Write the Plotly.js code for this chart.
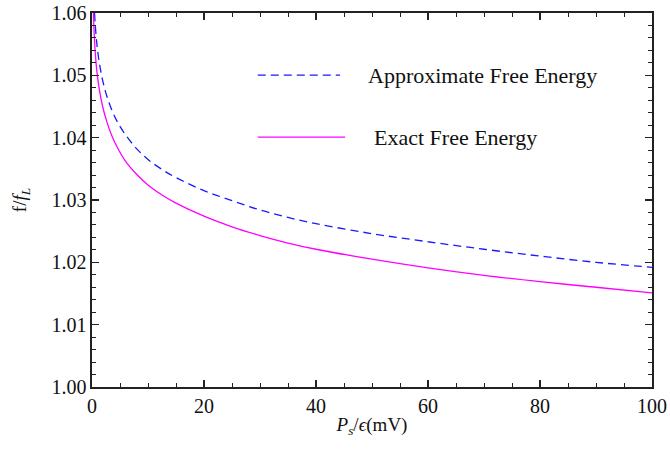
<!DOCTYPE html>
<html>
<head>
<meta charset="utf-8">
<script src="https://cdn.plot.ly/plotly-3.0.1.min.js"></script>
<style>html,body{margin:0;padding:0;background:#fff}#chart{width:670px;height:450px}</style>
</head>
<body>
<div id="chart"></div>
<script>
// Approximate free energy (blue dashed)
const approxX = [0.45, 0.7, 1.0, 1.4, 1.9, 2.6, 3.6, 4.8, 6.2, 8, 10, 12.5, 15, 20, 25, 30, 35, 40, 50, 60, 70, 80, 90, 100];
const approxY = [1.0600, 1.0567, 1.0540, 1.0515, 1.0492, 1.0468, 1.0443, 1.0421, 1.0402, 1.0382, 1.0365, 1.0349, 1.0336, 1.0315, 1.0299, 1.0284, 1.0272, 1.0262, 1.0246, 1.0233, 1.0221, 1.0210, 1.0200, 1.0192];
// Exact free energy (magenta solid)
const exactX = [0.25, 0.4, 0.6, 0.9, 1.3, 1.9, 2.6, 3.5, 4.6, 6, 8, 10, 12.5, 15, 20, 25, 30, 35, 40, 50, 60, 70, 80, 90, 100];
const exactY = [1.0600, 1.0565, 1.0534, 1.0504, 1.0478, 1.0450, 1.0427, 1.0404, 1.0383, 1.0362, 1.0341, 1.0324, 1.0308, 1.0295, 1.0274, 1.0257, 1.0243, 1.0231, 1.0221, 1.0205, 1.0191, 1.0179, 1.0169, 1.0160, 1.0151];
const legendNames = ["Approximate Free Energy", "Exact Free Energy"];
const xTicks = [0, 20, 40, 60, 80, 100];
const yTicks = [1.00, 1.01, 1.02, 1.03, 1.04, 1.05, 1.06];
const yTickText = ["1.00", "1.01", "1.02", "1.03", "1.04", "1.05", "1.06"];

const serif = "Liberation Serif, Times New Roman, serif";

const traces = [
  {x: approxX, y: approxY, mode: "lines", name: legendNames[0],
   line: {color: "#1a1aff", width: 1.3, dash: "8px,5px", shape: "spline", smoothing: 1}, showlegend: false},
  {x: exactX, y: exactY, mode: "lines", name: legendNames[1],
   line: {color: "#ff00ff", width: 1.3, shape: "spline", smoothing: 1}, showlegend: false}
];

const axisCommon = {
  showline: true, linecolor: "#222", linewidth: 1.6, mirror: "ticks",
  ticks: "inside", ticklen: 7, tickwidth: 1.2, tickcolor: "#222",
  showgrid: false, zeroline: false,
  tickfont: {family: serif, size: 20, color: "#111"}
};

const layout = {
  width: 670, height: 450,
  margin: {l: 92, r: 18, t: 13, b: 63},
  paper_bgcolor: "#fff", plot_bgcolor: "#fff",
  xaxis: Object.assign({}, axisCommon, {
    range: [0, 100], tickvals: xTicks, ticktext: xTicks.map(String),
    minor: {dtick: 5, ticks: "inside", ticklen: 4, tickwidth: 1, tickcolor: "#222"},
    title: {text: "<i>P</i><sub><i>s</i></sub>/<i>ϵ</i>(mV)", font: {family: serif, size: 19, color: "#111"}, standoff: 2}
  }),
  yaxis: Object.assign({}, axisCommon, {
    range: [1.00, 1.06], tickvals: yTicks, ticktext: yTickText,
    minor: {dtick: 0.002, ticks: "inside", ticklen: 4, tickwidth: 1, tickcolor: "#222"},
    title: {text: "f/<i>f</i><sub><i>L</i></sub>", font: {family: serif, size: 19, color: "#111"}, standoff: 20}
  }),
  shapes: [
    {type: "line", xref: "paper", yref: "paper", x0: 0.296, x1: 0.443, y0: 0.834, y1: 0.834,
     line: {color: "#1a1aff", width: 1.3, dash: "8px,5px"}},
    {type: "line", xref: "paper", yref: "paper", x0: 0.296, x1: 0.452, y0: 0.668, y1: 0.668,
     line: {color: "#ff00ff", width: 1.3}}
  ],
  annotations: [
    {xref: "paper", yref: "paper", x: 0.489, y: 0.834, xanchor: "left", yanchor: "middle",
     text: legendNames[0], showarrow: false, font: {family: serif, size: 22, color: "#111"}},
    {xref: "paper", yref: "paper", x: 0.500, y: 0.668, xanchor: "left", yanchor: "middle",
     text: legendNames[1], showarrow: false, font: {family: serif, size: 22, color: "#111"}}
  ],
  showlegend: false
};

Plotly.newPlot("chart", traces, layout, {displayModeBar: false, staticPlot: true});
</script>
</body>
</html>
